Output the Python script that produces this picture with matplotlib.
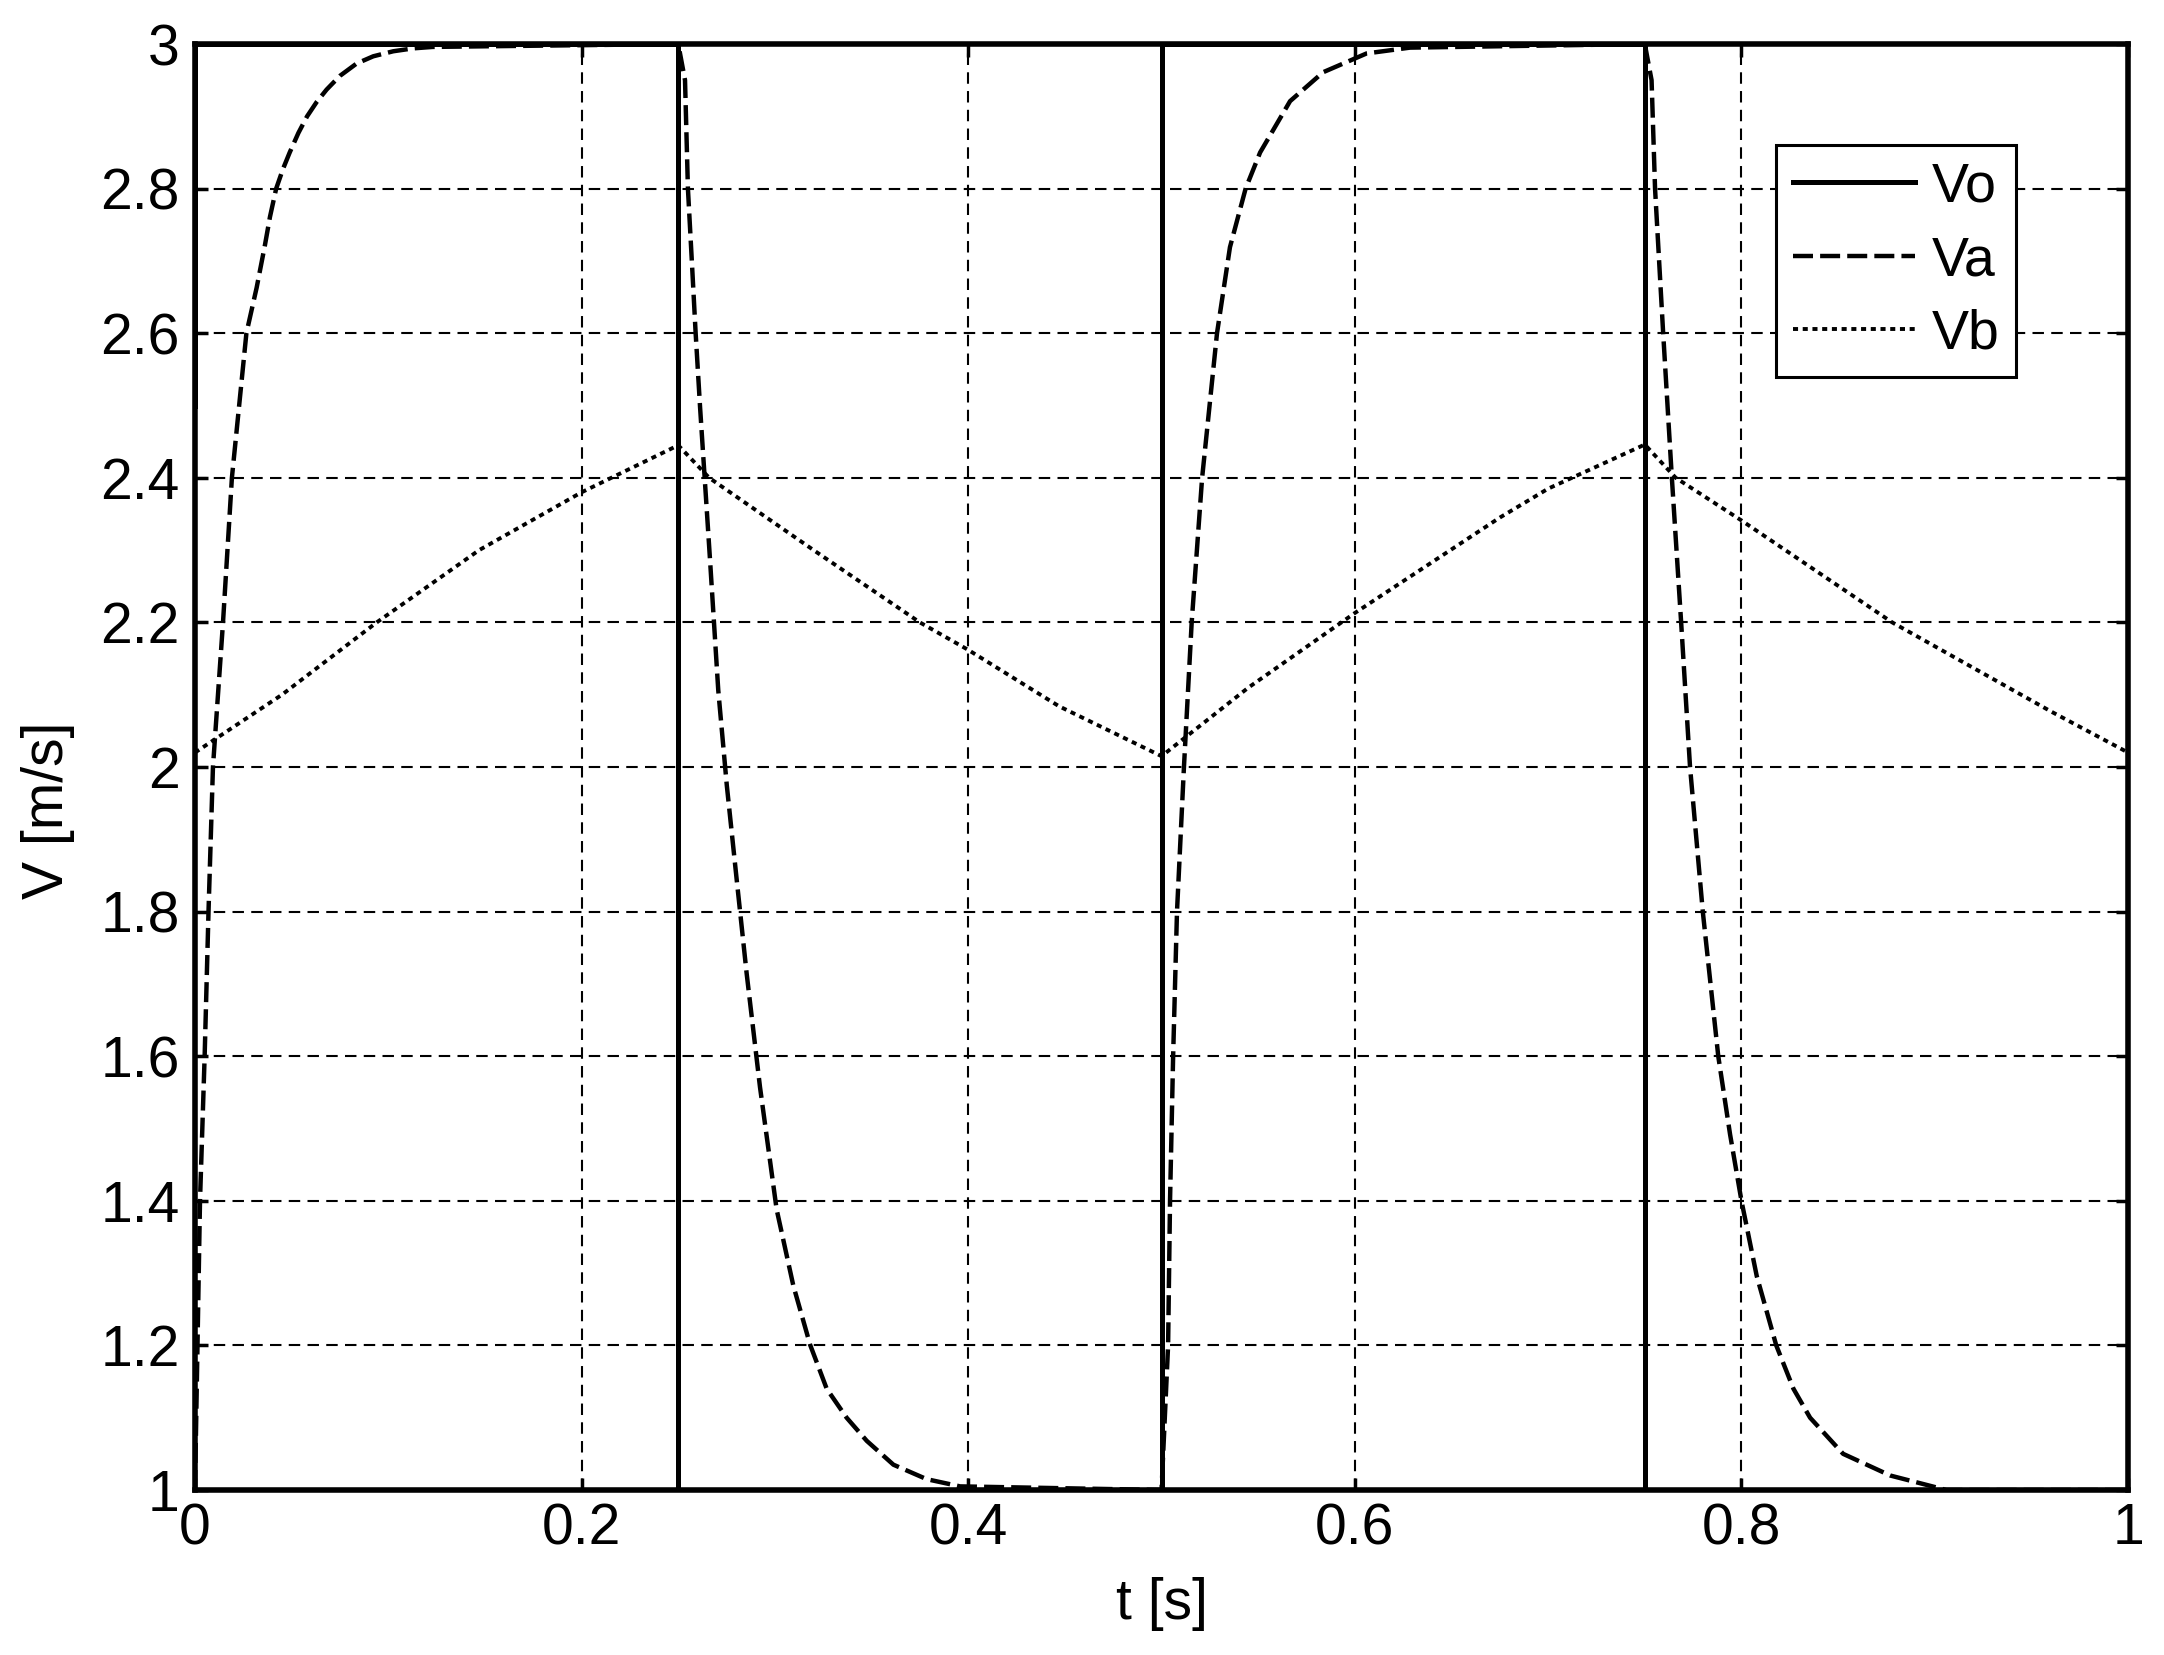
import matplotlib
matplotlib.use('Agg')
import matplotlib.pyplot as plt

plt.rcParams['font.family'] = ['Liberation Sans', 'DejaVu Sans']

# Vo: square wave between 1 and 3 m/s
vo_t = [0, 0, 0.25, 0.25, 0.5, 0.5, 0.75, 0.75, 1.0]
vo_v = [2.5, 3, 3, 1, 1, 3, 3, 1, 1]

# Va: fast rise / fall after each switch
va_t = [0, 0.0013, 0.0026, 0.005, 0.007, 0.0093, 0.0145, 0.0191, 0.0266, 0.0319,
        0.0362, 0.0388, 0.0420, 0.0455, 0.0490, 0.0535, 0.0580, 0.0630, 0.0681,
        0.0750, 0.0836, 0.0922, 0.1026, 0.1129, 0.123, 0.25,
        0.2535, 0.255, 0.2569, 0.259, 0.2613, 0.2664, 0.2707, 0.2751, 0.2802,
        0.2854, 0.2923, 0.3009, 0.3095, 0.3182, 0.3268, 0.3371, 0.3475, 0.3613,
        0.3785, 0.3958, 0.5,
        0.5034, 0.5044, 0.506, 0.508, 0.5116, 0.5156, 0.521, 0.5287, 0.5354,
        0.5435, 0.551, 0.5665, 0.5836, 0.6061, 0.6285, 0.75,
        0.7535, 0.7553, 0.7595, 0.764, 0.7688, 0.7734, 0.780, 0.788, 0.7941,
        0.800, 0.8079, 0.818, 0.8269, 0.8355, 0.8526, 0.877, 0.906, 1.0]
va_v = [1.0, 1.2, 1.4, 1.6, 1.8, 2.0, 2.2, 2.4, 2.6, 2.663,
        2.722, 2.761, 2.8, 2.827, 2.85, 2.877, 2.900, 2.920, 2.937,
        2.956, 2.973, 2.983, 2.990, 2.994, 2.996, 3.0,
        2.95, 2.8, 2.706, 2.6, 2.497, 2.288, 2.106, 1.975, 1.845,
        1.714, 1.557, 1.388, 1.283, 1.201, 1.140, 1.100, 1.068, 1.035,
        1.015, 1.005, 1.0,
        1.2, 1.4, 1.6, 1.8, 2.0, 2.2, 2.4, 2.6, 2.719,
        2.8, 2.850, 2.921, 2.961, 2.987, 2.995, 3.0,
        2.95, 2.8, 2.6, 2.4, 2.2, 2.0, 1.8, 1.6, 1.492,
        1.4, 1.296, 1.2, 1.140, 1.1, 1.05, 1.02, 1.0, 1.0]

# Vb: slow ripple between about 2.0 and 2.45
vb_t = [0, 0.045, 0.094, 0.147, 0.2, 0.25, 0.266, 0.32, 0.375, 0.4, 0.447, 0.5,
        0.545, 0.6, 0.675, 0.7, 0.75, 0.766, 0.8, 0.878, 0.96, 1.0]
vb_v = [2.02, 2.1, 2.2, 2.3, 2.38, 2.445, 2.4, 2.3, 2.2, 2.162, 2.084, 2.015,
        2.11, 2.213, 2.345, 2.385, 2.446, 2.4, 2.341, 2.2, 2.077, 2.02]

x_ticks = [0, 0.2, 0.4, 0.6, 0.8, 1.0]
x_labels = ['0', '0.2', '0.4', '0.6', '0.8', '1']
y_ticks = [1, 1.2, 1.4, 1.6, 1.8, 2, 2.2, 2.4, 2.6, 2.8, 3]
y_labels = ['1', '1.2', '1.4', '1.6', '1.8', '2', '2.2', '2.4', '2.6', '2.8', '3']

fig = plt.figure(figsize=(21.64, 16.55), dpi=100)
ax = fig.add_axes([0.0901, 0.0997, 0.8933, 0.8737])

ax.plot(vo_t, vo_v, color='black', linewidth=3.6, linestyle='-', label='Vo', zorder=3)
va_line, = ax.plot(va_t, va_v, color='black', linewidth=3.2, label='Va', zorder=3)
va_line.set_dashes((4.5, 1.6))
vb_line, = ax.plot(vb_t, vb_v, color='black', linewidth=2.8, label='Vb', zorder=3)
vb_line.set_dashes((1.3, 1.2))

ax.set_xlim(0, 1)
ax.set_ylim(1, 3)
ax.set_xticks(x_ticks)
ax.set_xticklabels(x_labels)
ax.set_yticks(y_ticks)
ax.set_yticklabels(y_labels)

ax.grid(True, color='black', linewidth=1.5, linestyle=(0, (5.5, 3.5)), zorder=1)
ax.set_axisbelow(True)

for spine in ax.spines.values():
    spine.set_linewidth(4.0)
    spine.set_color('black')

ax.tick_params(axis='both', direction='in', length=9, width=2.5, labelsize=41,
               top=True, right=True, color='black')
ax.tick_params(axis='y', pad=11)
ax.tick_params(axis='x', pad=9)

ax.set_xlabel('t [s]', fontsize=41)
ax.set_ylabel('V [m/s]', fontsize=41)
ax.xaxis.set_label_coords(0.5, -0.06)
ax.yaxis.set_label_coords(-0.062, 0.47)

leg = ax.legend(loc='upper right', bbox_to_anchor=(0.942, 0.930),
                bbox_transform=ax.transAxes, borderaxespad=0,
                fontsize=40, handlelength=2.2, handletextpad=0.3,
                borderpad=0.3, labelspacing=0.38, fancybox=False,
                framealpha=1, edgecolor='black')
leg.get_frame().set_linewidth(2.2)

fig.savefig('out.png', dpi=100, facecolor='white')
plt.close(fig)
